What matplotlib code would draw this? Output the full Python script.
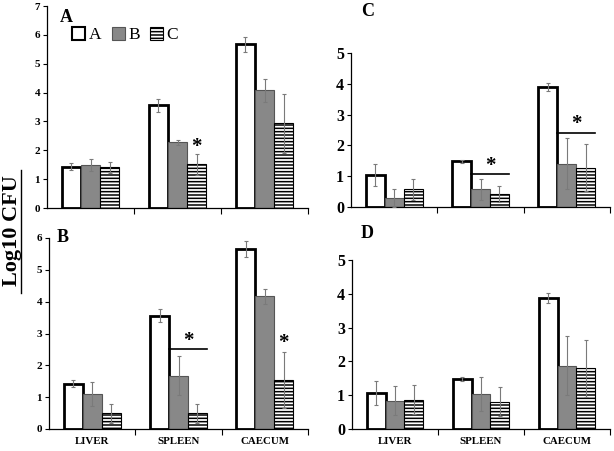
import numpy as np
import matplotlib
matplotlib.use("Agg")
import matplotlib.pyplot as plt
from matplotlib.patches import Patch

############### Data ###############

organs = ["LIVER", "SPLEEN", "CAECUM"]
groups = ["A", "B", "C"]

# panel A
a_mean = [[1.43, 3.56, 5.67], [1.49, 2.27, 4.08], [1.41, 1.51, 2.93]]
a_err = [[0.12, 0.22, 0.25], [0.2, 0.07, 0.4], [0.18, 0.36, 1.03]]
# panel B
b_mean = [[1.42, 3.56, 5.66], [1.09, 1.68, 4.17], [0.5, 0.5, 1.53]]
b_err = [[0.11, 0.21, 0.25], [0.38, 0.6, 0.23], [0.3, 0.3, 0.88]]
# panel C
c_mean = [[1.05, 1.48, 3.88], [0.3, 0.57, 1.4], [0.57, 0.43, 1.28]]
c_err = [[0.36, 0.04, 0.13], [0.3, 0.33, 0.83], [0.33, 0.26, 0.76]]
# panel D
d_mean = [[1.06, 1.48, 3.88], [0.84, 1.03, 1.87], [0.87, 0.81, 1.8]]
d_err = [[0.35, 0.05, 0.14], [0.42, 0.5, 0.87], [0.43, 0.42, 0.84]]

# significance marks: (organ index, from bar, to bar, y of mark, with line)
a_sig = [(1, 2, 2, 1.85, False)]
b_sig = [(1, 1, 2, 2.5, True), (2, 2, 2, 2.45, False)]
c_sig = [(1, 1, 2, 1.07, True), (2, 1, 2, 2.41, True)]
d_sig = []

############### Plotting ###############

W, H = 614, 451
plt.rcParams["font.family"] = ["Liberation Serif", "DejaVu Serif"]
plt.rcParams["hatch.linewidth"] = 1.1
fig = plt.figure(figsize=(W / 100, H / 100), dpi=100)


def px_axes(l, t, r, b):
    return fig.add_axes([l / W, 1 - b / H, (r - l) / W, (b - t) / H])


bar_w = 0.22
offsets = [-0.22, 0.0, 0.22]
styles = [dict(color="white", edgecolor="black", linewidth=2.0),
          dict(color="#888888", edgecolor="#555555", linewidth=0.8),
          dict(color="white", edgecolor="black", linewidth=0.8, hatch="-----")]


def draw_panel(ax, means, errs, ymax, label, label_xy, sig, tick_fs, show_x):
    x = np.arange(len(organs))
    for i in range(3):
        ax.bar(x + offsets[i], means[i], bar_w, **styles[i], zorder=2)
        ax.errorbar(x + offsets[i], means[i], yerr=errs[i], fmt="none",
                    ecolor="#7a7a7a", elinewidth=0.8, capsize=1.6,
                    capthick=0.8, zorder=3)
    ax.set_xlim(-0.5, 2.5)
    ax.set_ylim(0, ymax)
    ax.set_yticks(range(ymax + 1))
    ax.tick_params(axis="y", labelsize=tick_fs, length=3, width=0.8, pad=2)
    for t in ax.get_yticklabels():
        t.set_fontweight("bold")
    ax.set_xticks([0.5, 1.5, 2.5], minor=True)
    ax.tick_params(axis="x", which="minor", length=4, width=0.8)
    ax.set_xticks(x)
    if show_x:
        ax.set_xticklabels(organs, fontsize=7.8, fontweight="bold")
    else:
        ax.set_xticklabels([])
    ax.tick_params(axis="x", which="major", length=0, pad=6)
    for s in ["top", "right"]:
        ax.spines[s].set_visible(False)
    for s in ["left", "bottom"]:
        ax.spines[s].set_linewidth(0.9)
    fig.text(label_xy[0] / W, 1 - label_xy[1] / H, label, fontsize=13,
             fontweight="bold", ha="left", va="center")
    for org, b0, b1, y, line in sig:
        x0 = org + offsets[b0] - bar_w / 2
        x1 = org + offsets[b1] + bar_w / 2
        if line:
            ax.plot([x0, x1], [y, y], color="black", lw=1.2, zorder=4)
        ax.text((x0 + x1) / 2, y - 0.05 * ymax / 5, "*", fontsize=15,
                fontweight="bold", ha="center", va="bottom")


axA = px_axes(47, 6, 308, 208)
draw_panel(axA, a_mean, a_err, 7, "A", (60, 17), a_sig, 8, False)
axC = px_axes(351, 53, 610, 207)
draw_panel(axC, c_mean, c_err, 5, "C", (361, 12), c_sig, 11.5, False)
axB = px_axes(49, 238, 308, 429)
draw_panel(axB, b_mean, b_err, 6, "B", (57, 237), b_sig, 8, True)
axD = px_axes(352, 260, 610, 429)
draw_panel(axD, d_mean, d_err, 5, "D", (361, 234), d_sig, 11.5, True)

handles = [Patch(facecolor=st["color"], edgecolor=st["edgecolor"],
                 linewidth=st["linewidth"], hatch=st.get("hatch"))
           for st in styles]
handles[0].set_linewidth(1.5)
axA.legend(handles, groups, loc="upper left", bbox_to_anchor=(0.07, 0.93),
           ncol=3, frameon=False, fontsize=12.5, handlelength=0.75,
           handleheight=0.75, handletextpad=0.2, columnspacing=0.6,
           borderaxespad=0)

fig.text(12 / W, 1 - 231 / H, "Log10 CFU", rotation=90, fontsize=16,
         fontweight="bold", ha="center", va="center")
fig.add_artist(plt.Line2D([21 / W, 21 / W], [1 - 170 / H, 1 - 293 / H],
                          color="black", lw=1.0))

fig.savefig("out.png", dpi=100)
